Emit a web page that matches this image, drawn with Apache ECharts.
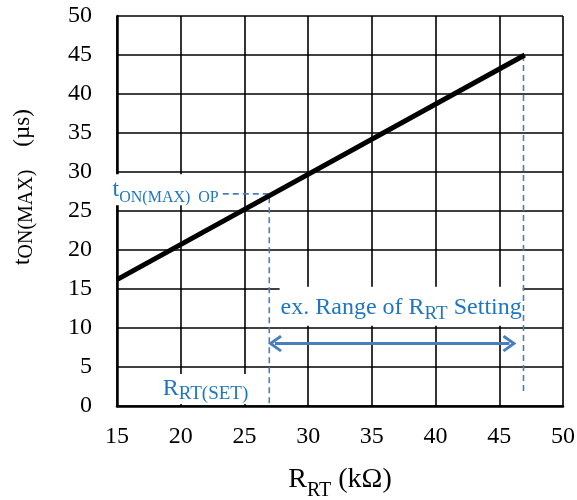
<!DOCTYPE html>
<html>
<head>
<meta charset="utf-8">
<script src="https://cdn.jsdelivr.net/npm/echarts@6/dist/echarts.min.js"></script>
<style>html,body{margin:0;padding:0;background:#fff}#c{width:577px;height:500px}</style>
</head>
<body>
<div id="c"></div>
<script>
// ---- data ----
const lineR = [15, 47];              // R_RT (kOhm)
const lineT = [16.2, 45];            // tON(MAX) (us)
const opR = 26.95;                   // R_RT(SET)
const opT = 27.2;                    // tON(MAX) OP
const opDashStartR = 23.3;
const rangeEndR = 46.9;
const rangeEndBottomT = 1.5;
const arrowR = [27.4, 45.8];
const arrowT = 8;
const rangeLabelPos = [37.3, 12.8];
const xTicks = [15, 20, 25, 30, 35, 40, 45, 50];
const yTicks = [0, 5, 10, 15, 20, 25, 30, 35, 40, 45, 50];

const FONT = '"Liberation Serif", "Times New Roman", serif';
const BLUE_TXT = '#1f75c2';
const BLUE_LN = '#4a7ebb';

const chart = echarts.init(document.getElementById('c'), null, {renderer: 'canvas'});
const chevron = 'path://M5,0 L10,7.4 L8.7,8.6 L5,3.1 L1.3,8.6 L0,7.4 Z';

const option = {
  animation: false,
  backgroundColor: '#fff',
  grid: {left: 117, right: 14, top: 16, bottom: 94, containLabel: false, outerBoundsMode: 'none'},
  xAxis: {
    type: 'value', min: xTicks[0], max: xTicks[xTicks.length - 1], interval: 5,
    axisLine: {show: true, onZero: false, lineStyle: {color: '#000', width: 2.5}},
    axisTick: {show: false},
    splitLine: {show: true, lineStyle: {color: '#000', width: 1.6}},
    axisLabel: {fontFamily: FONT, fontSize: 24, color: '#000', margin: 19},
    name: '{m|R}{s|RT}{m| (kΩ)}',
    nameLocation: 'middle', nameGap: 53,
    nameTextStyle: {
      rich: {
        m: {fontFamily: FONT, fontSize: 28, color: '#000'},
        s: {fontFamily: FONT, fontSize: 20, color: '#000', padding: [22, 0, 0, 0]}
      }
    }
  },
  yAxis: {
    type: 'value', min: yTicks[0], max: yTicks[yTicks.length - 1], interval: 5,
    axisLine: {show: true, onZero: false, lineStyle: {color: '#000', width: 2.5}},
    axisTick: {show: false},
    splitLine: {show: true, lineStyle: {color: '#000', width: 1.6}},
    axisLabel: {fontFamily: FONT, fontSize: 24, color: '#000', margin: 25}
  },
  series: [
    {
      type: 'line', data: lineR.map((r, i) => [r, lineT[i]]),
      symbol: 'none', lineStyle: {color: '#000', width: 5}, z: 5, silent: true
    },
    {
      type: 'line', data: [[opDashStartR, opT], [opR, opT], [opR, 0]],
      symbol: 'none', lineStyle: {color: BLUE_LN, width: 1.6, type: [6, 4]}, z: 3, silent: true
    },
    {
      type: 'line', data: [[rangeEndR, lineT[1]], [rangeEndR, rangeEndBottomT]],
      symbol: 'none', lineStyle: {color: BLUE_LN, width: 1.6, type: [6, 4]}, z: 3, silent: true,
      markLine: {
        silent: true,
        symbol: [chevron, chevron],
        symbolSize: [17, 14],
        label: {show: false},
        lineStyle: {color: BLUE_LN, width: 3, type: 'solid'},
        data: [[{coord: [arrowR[0], arrowT]}, {coord: [arrowR[1], arrowT]}]]
      }
    }
  ]
};
chart.setOption(option);

function px(p) { return chart.convertToPixel({gridIndex: 0}, p); }
const pOpH = px([opDashStartR, opT]);
const pOpV = px([opR, 0]);
const pRange = px(rangeLabelPos);

chart.setOption({
  graphic: [
    {
      type: 'text', z: 1, silent: true,
      x: pOpH[0] - 3, y: pOpH[1] - 4,
      style: {
        text: '{m|t}{s|ON(MAX)  OP}',
        align: 'right', verticalAlign: 'middle',
        backgroundColor: '#fff', padding: [0, 1, 0, 1],
        rich: {
          m: {fontFamily: FONT, fontSize: 24, fill: BLUE_TXT},
          s: {fontFamily: FONT, fontSize: 16, fill: BLUE_TXT, padding: [15, 0, 0, 0]}
        }
      }
    },
    {
      type: 'text', z: 1, silent: true,
      x: pOpV[0] - 20, y: pOpV[1] - 17,
      style: {
        text: '{m|R}{s|RT(SET)}',
        align: 'right', verticalAlign: 'middle',
        backgroundColor: '#fff', padding: [0, 1, 0, 1],
        rich: {
          m: {fontFamily: FONT, fontSize: 24, fill: BLUE_TXT},
          s: {fontFamily: FONT, fontSize: 19, fill: BLUE_TXT, padding: [11, 0, 0, 0]}
        }
      }
    },
    {
      type: 'text', z: 1, silent: true,
      x: pRange[0], y: pRange[1],
      style: {
        text: '{m|ex. Range of R}{s|RT}{m| Setting}',
        align: 'center', verticalAlign: 'middle',
        backgroundColor: '#fff', padding: [5, 1, 2, 1],
        rich: {
          m: {fontFamily: FONT, fontSize: 24, fill: BLUE_TXT},
          s: {fontFamily: FONT, fontSize: 19, fill: BLUE_TXT, padding: [13, 0, 0, 0]}
        }
      }
    },
    {
      type: 'text', z: 1, silent: true,
      x: 23, y: 187, rotation: Math.PI / 2,
      style: {
        text: '{m|t}{s|ON(MAX)}{m|    (µs)}',
        align: 'center', verticalAlign: 'middle',
        rich: {
          m: {fontFamily: FONT, fontSize: 23, fill: '#000'},
          s: {fontFamily: FONT, fontSize: 20, fill: '#000', padding: [7, 0, 0, 0]}
        }
      }
    }
  ]
});
</script>
</body>
</html>
